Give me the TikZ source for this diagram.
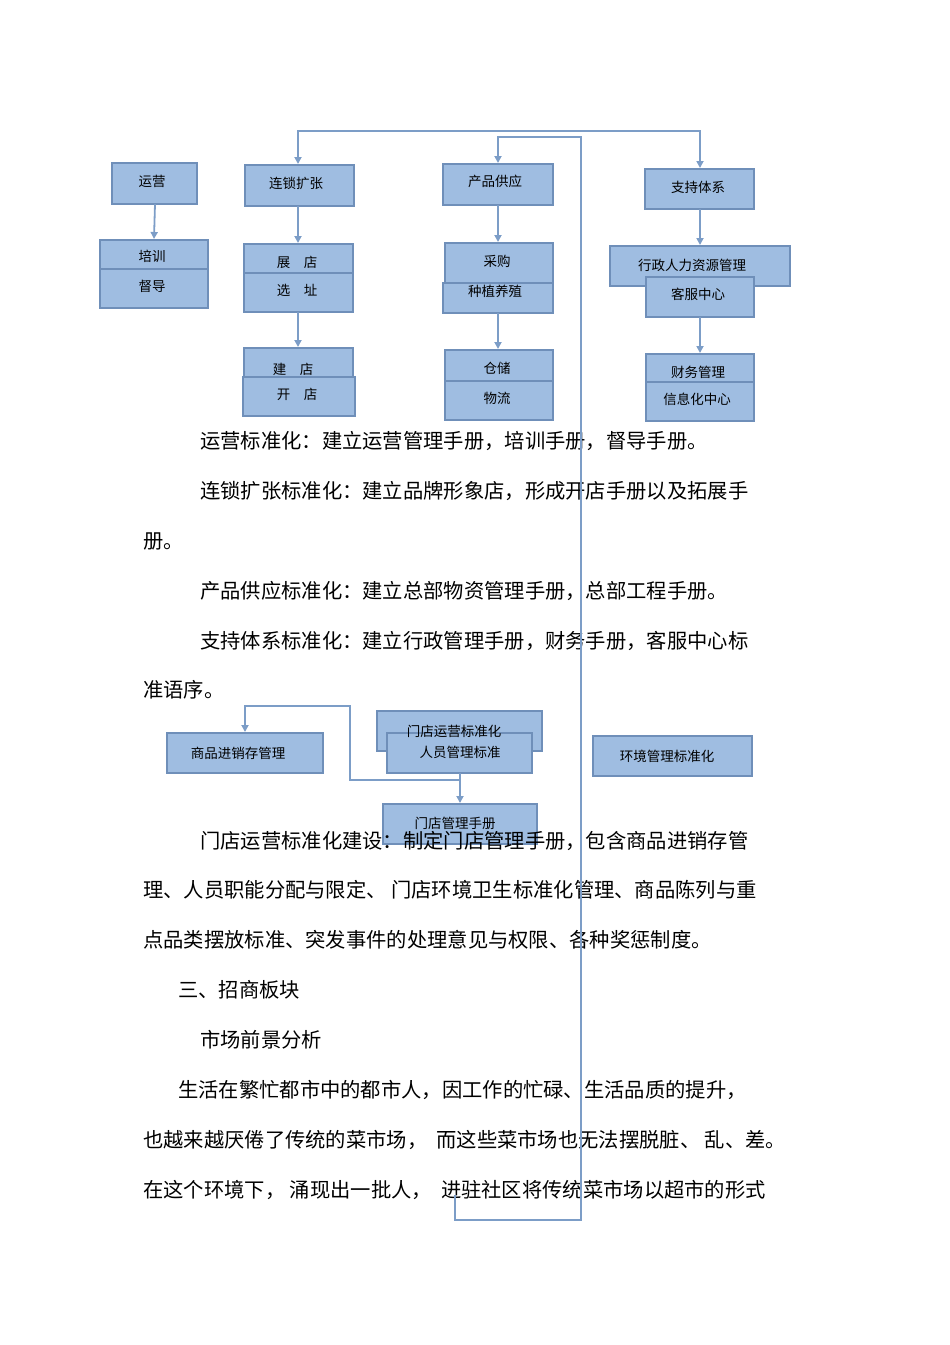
\documentclass[tikz,border=0pt]{standalone}
\usepackage{fontspec}
\setmainfont{Noto Sans CJK SC}
\usetikzlibrary{arrows.meta}
\definecolor{bfill}{HTML}{9FBDE1}
\definecolor{bdraw}{HTML}{6F8FB9}
\definecolor{lcol}{HTML}{7C9DC7}
\begin{document}
\begin{tikzpicture}[x=1pt,y=-1pt,
  bx/.style={draw=bdraw,line width=1.6pt,fill=bfill},
  lbl/.style={font=\fontsize{13.5}{14}\selectfont,inner sep=0pt},
  conn/.style={draw=lcol,line width=1.8pt},
  arr/.style={conn,-{Triangle[length=7pt,width=7pt]}},
  body/.style={anchor=west,font=\fontsize{20.3}{21}\selectfont,inner sep=0pt}]
\useasboundingbox (0,0) rectangle (950,1345);
% top row
\draw[bx] (112,163) rectangle (197,204); \node[lbl] (yy) at (152,181) {运营};
\draw[bx] (100,240) rectangle (208,269); \draw[bx] (100,269) rectangle (208,308);
\node[lbl] at (152,256) {培训}; \node[lbl] at (152,286) {督导};
\draw[bx] (245,165) rectangle (354,206); \node[lbl] at (296,183) {连锁扩张};
\draw[bx] (244,244) rectangle (353,273); \draw[bx] (244,273) rectangle (353,312);
\node[lbl] at (297,262) {展\quad 店}; \node[lbl] at (297,290) {选\quad 址};
\draw[bx] (244,348) rectangle (353,378); \draw[bx] (243,377) rectangle (355,416);
\node[lbl] at (293,369) {建\quad 店}; \node[lbl] at (297,394) {开\quad 店};
\draw[bx] (443,164) rectangle (553,205); \node[lbl] at (495,181) {产品供应};
\draw[bx] (445,243) rectangle (553,283); \draw[bx] (443,283) rectangle (553,313);
\node[lbl] at (497,261) {采购}; \node[lbl] at (495,291) {种植养殖};
\draw[bx] (445,350) rectangle (553,381); \draw[bx] (445,381) rectangle (553,420);
\node[lbl] at (497,368) {仓储}; \node[lbl] at (497,398) {物流};
\draw[bx] (645,169) rectangle (754,209); \node[lbl] at (698,187) {支持体系};
\draw[bx] (610,246) rectangle (790,286); \node[lbl] at (692,265) {行政人力资源管理};
\draw[bx] (646,277) rectangle (754,317); \node[lbl] at (698,294) {客服中心};
\draw[bx] (646,354) rectangle (754,382); \draw[bx] (646,382) rectangle (754,421);
\node[lbl] at (698,372) {财务管理}; \node[lbl] at (697,399) {信息化中心};
% arrows
\draw[arr] (155,204) -- (154,239);
\draw[arr] (298,206) -- (298,243);
\draw[arr] (298,312) -- (298,347);
\draw[arr] (498,205) -- (498,242);
\draw[arr] (498,313) -- (498,349);
\draw[arr] (700,209) -- (700,245);
\draw[arr] (700,317) -- (700,353);
\draw[arr] (298,131) -- (700,131) -- (700,168);
\draw[arr] (455,131) -- (298,131) -- (298,164);
\draw[arr] (581,140) -- (581,137) -- (498,137) -- (498,163);
% middle
\draw[bx] (167,733) rectangle (323,773); \node[lbl] at (238,753) {商品进销存管理};
\draw[bx] (377,711) rectangle (542,751);
\draw[bx] (387,733) rectangle (532,773);
\node[lbl] at (454,731) {门店运营标准化}; \node[lbl] at (460,752) {人员管理标准};
\draw[bx] (593,736) rectangle (752,776); \node[lbl] at (667,756) {环境管理标准化};
\draw[bx] (383,804) rectangle (537,844); \node[lbl] at (455,823) {门店管理手册};
\draw[arr] (460,773) -- (460,780) -- (350,780) -- (350,706) -- (245,706) -- (245,732);
\draw[arr] (460,773) -- (460,803);
% body text
\node[body] at (200,441) {运营标准化：建立运营管理手册，培训手册，督导手册。};
\node[body] at (200,491) {连锁扩张标准化：建立品牌形象店，形成开店手册以及拓展手};
\node[body] at (143,541) {册。};
\node[body] at (200,591) {产品供应标准化：建立总部物资管理手册，总部工程手册。};
\node[body] at (200,641) {支持体系标准化：建立行政管理手册，财务手册，客服中心标};
\node[body] at (143,690) {准语序。};
\node[body] at (200,841) {门店运营标准化建设：制定门店管理手册，包含商品进销存管};
\node[body] at (143,890) {理、人员职能分配与限定、\ 门店环境卫生标准化管理、商品陈列与重};
\node[body] at (143,940) {点品类摆放标准、突发事件的处理意见与权限、各种奖惩制度。};
\node[body] at (178,990) {三、招商板块};
\node[body] at (200,1040) {市场前景分析};
\node[body] at (178,1090) {生活在繁忙都市中的都市人，因工作的忙碌、生活品质的提升，};
\node[body] at (143,1140) {也越来越厌倦了传统的菜市场，\ \ 而这些菜市场也无法摆脱脏、\ 乱、差。};
\node[body] at (143,1190) {在这个环境下，\ 涌现出一批人，\ \ 进驻社区将传统菜市场以超市的形式};
% long line
\draw[conn] (581,137) -- (581,1220) -- (455,1220) -- (455,1195);
\end{tikzpicture}
\end{document}
